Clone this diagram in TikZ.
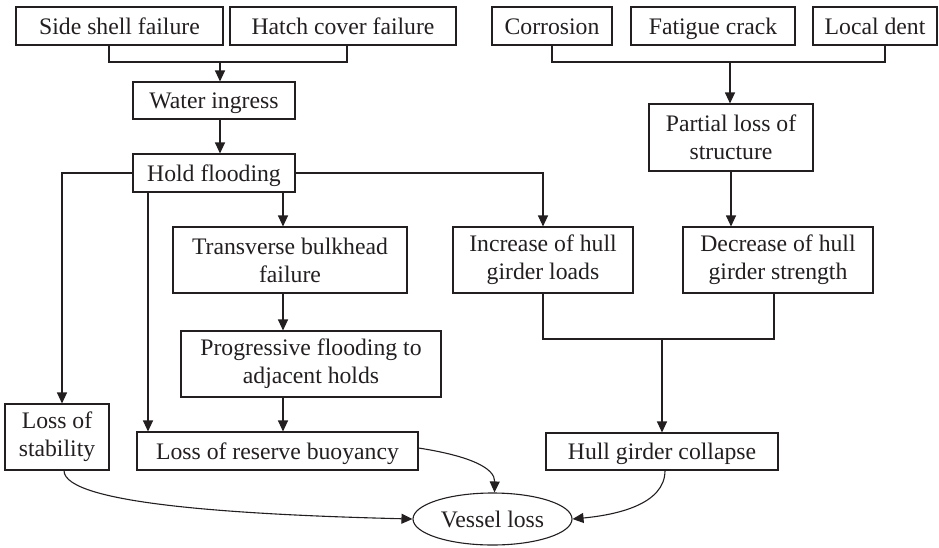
\documentclass[tikz,border=0pt]{standalone}
\usepackage{fontspec}
\setmainfont{Liberation Serif}
\usetikzlibrary{arrows.meta,shapes.geometric}
\definecolor{ink}{HTML}{231F20}
\begin{document}
\begin{tikzpicture}[x=1pt,y=-1pt,
  every node/.style={font=\fontsize{23.7}{28}\selectfont, text=ink},
  box/.style={draw=ink, line width=1.1pt, rectangle, inner sep=0pt, align=center},
  oneline/.style={text height=17pt, text depth=1pt},
  oval/.style={draw=ink, line width=1.1pt, ellipse, inner sep=0pt},
  link/.style={draw=ink, line width=1.1pt},
  arr/.style={link, -{Triangle[length=11pt,width=10pt]}}]
\useasboundingbox (0,0) rectangle (939,547);

% top row of causes
\node[box, oneline, minimum width=207pt, minimum height=38pt] (ss) at (119.5,26) {Side shell failure};
\node[box, oneline, minimum width=226pt, minimum height=38pt] (hc) at (343,26) {Hatch cover failure};
\node[box, oneline, minimum width=120pt, minimum height=38pt] (cor) at (552,26) {Corrosion};
\node[box, oneline, minimum width=164pt, minimum height=38pt] (fat) at (713,26) {Fatigue crack};
\node[box, oneline, minimum width=124pt, minimum height=38pt] (ld) at (875,26) {Local dent};

% flooding chain
\node[box, oneline, minimum width=162pt, minimum height=37pt] (wi) at (214,100.5) {Water ingress};
\node[box, oneline, minimum width=162pt, minimum height=38pt] (hf) at (214,173) {Hold flooding};
\node[box, minimum width=164pt, minimum height=67pt] (pl) at (731,137.5) {Partial loss of\\structure};
\node[box, minimum width=234pt, minimum height=66pt] (tb) at (290,260) {Transverse bulkhead\\failure};
\node[box, minimum width=180pt, minimum height=66pt] (ig) at (543,260) {Increase of hull\\girder loads};
\node[box, minimum width=190pt, minimum height=66pt] (dg) at (778,260) {Decrease of hull\\girder strength};
\node[box, minimum width=260pt, minimum height=66pt] (pf) at (311,364) {Progressive flooding to\\adjacent holds};
\node[box, minimum width=104pt, minimum height=66pt] (ls) at (57,437) {Loss of\\stability};
\node[box, oneline, minimum width=281pt, minimum height=38pt] (rb) at (277.5,451) {Loss of reserve buoyancy};
\node[box, oneline, minimum width=232pt, minimum height=37pt] (hg) at (662,451.5) {Hull girder collapse};
\node[oval, oneline, minimum width=159pt, minimum height=52pt] (vl) at (492.5,519) {Vessel loss};

% junction points
\coordinate (j1) at (220,62);
\coordinate (j2) at (730,62);
\coordinate (j3) at (662,339);
\coordinate (hfa) at ([xshift=-66pt]hf.south);
\coordinate (hfb) at ([xshift=69pt]hf.south);
\coordinate (wia) at ([xshift=6pt]wi.south);

% left merge into water ingress
\draw[link] ([xshift=-10.5pt]ss.south) |- (j1) -| ([xshift=4pt]hc.south);
\draw[arr] (j1) -- (j1 |- wi.north);
\draw[arr] (wia) -- (wia |- hf.north);

% right merge into partial loss
\draw[link] (cor.south) |- (j2) -| ([xshift=10pt]ld.south);
\draw[arr] (j2) -- (j2 |- pl.north);
\draw[arr] (pl.south) -- (pl.south |- dg.north);

% branches from hold flooding
\draw[arr] (hf.west) -| ([xshift=5pt]ls.north);
\draw[arr] (hf.east) -| (ig.north);
\draw[arr] (hfa) -- (hfa |- rb.north);
\draw[arr] (hfb) -- (hfb |- tb.north);
\draw[arr] (hfb |- tb.south) -- (hfb |- pf.north);
\draw[arr] (hfb |- pf.south) -- (hfb |- rb.north);

% merge into hull girder collapse
\draw[link] (ig.south) |- (j3) -| ([xshift=-4pt]dg.south);
\draw[arr] (j3) -- (j3 |- hg.north);

% final consequences
\draw[arr] ([xshift=7pt]ls.south) .. controls (64,505) and (250,515) .. (vl.west);
\draw[arr] ([yshift=3pt]rb.east) .. controls (470,456) and (495,468) .. ([xshift=2pt]vl.north);
\draw[arr] ([xshift=3pt]hg.south) .. controls (665,505) and (615,515) .. (vl.east);
\end{tikzpicture}
\end{document}
